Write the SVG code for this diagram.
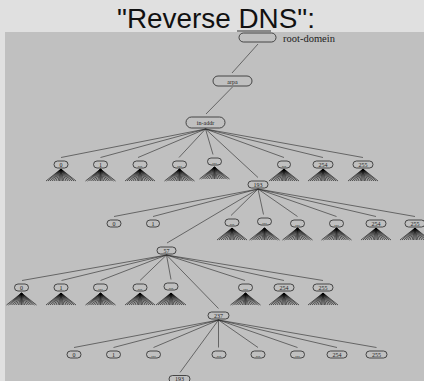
<svg xmlns="http://www.w3.org/2000/svg" xmlns:xlink="http://www.w3.org/1999/xlink" width="424" height="381" viewBox="0 0 424 381">
<style>
.n{fill:none;stroke:#262626;stroke-width:0.8}
.t{font-family:"Liberation Serif",serif;font-size:6px;fill:#222;text-anchor:middle}
.c line{stroke:#262626;stroke-width:0.6}
.f line{stroke:#000;stroke-width:0.6}
</style>
<defs>
<g id="fan" class="f">
<line x1="0" y1="0" x2="-15" y2="12"/><line x1="0" y1="0" x2="-13" y2="12"/><line x1="0" y1="0" x2="-11" y2="12"/><line x1="0" y1="0" x2="-9" y2="12"/><line x1="0" y1="0" x2="-7" y2="12"/><line x1="0" y1="0" x2="-5" y2="12"/><line x1="0" y1="0" x2="-3" y2="12"/><line x1="0" y1="0" x2="-1.5" y2="12"/><line x1="0" y1="0" x2="0" y2="12"/><line x1="0" y1="0" x2="1.5" y2="12"/><line x1="0" y1="0" x2="3" y2="12"/><line x1="0" y1="0" x2="5" y2="12"/><line x1="0" y1="0" x2="7" y2="12"/><line x1="0" y1="0" x2="9" y2="12"/><line x1="0" y1="0" x2="11" y2="12"/><line x1="0" y1="0" x2="13" y2="12"/><line x1="0" y1="0" x2="15" y2="12"/>
</g>
</defs>
<rect x="0" y="0" width="424" height="381" fill="#e0e0e0"/>
<rect x="5" y="32" width="419" height="349" fill="#c0c0c0"/>
<text x="117" y="28" font-family="Liberation Sans,sans-serif" font-size="28" fill="#111" textLength="198" lengthAdjust="spacingAndGlyphs">"Reverse DNS":</text>
<line x1="237" y1="31" x2="271" y2="31" stroke="#333" stroke-width="1"/>

<g id="connectors" class="c">
<line x1="258" y1="44" x2="232" y2="73"/>
<line x1="232.5" y1="87" x2="206" y2="114"/>
<line x1="205.5" y1="129" x2="61" y2="157.5"/>
<line x1="205.5" y1="129" x2="100.5" y2="157.5"/>
<line x1="205.5" y1="129" x2="138" y2="157.5"/>
<line x1="205.5" y1="129" x2="179" y2="157.5"/>
<line x1="205.5" y1="129" x2="213" y2="154.5"/>
<line x1="205.5" y1="129" x2="258" y2="177.5"/>
<line x1="205.5" y1="129" x2="284" y2="157.5"/>
<line x1="205.5" y1="129" x2="323" y2="157.5"/>
<line x1="205.5" y1="129" x2="363" y2="157.5"/>
<line x1="258" y1="189" x2="114" y2="216.5"/>
<line x1="258" y1="189" x2="153" y2="216.5"/>
<line x1="258" y1="189" x2="167" y2="243"/>
<line x1="258" y1="189" x2="231" y2="215.5"/>
<line x1="258" y1="189" x2="263.5" y2="214.5"/>
<line x1="258" y1="189" x2="297.5" y2="216.5"/>
<line x1="258" y1="189" x2="336.5" y2="216.5"/>
<line x1="258" y1="189" x2="376" y2="216.5"/>
<line x1="258" y1="189" x2="415" y2="216.5"/>
<line x1="166.5" y1="255" x2="22" y2="280.5"/>
<line x1="166.5" y1="255" x2="61.5" y2="280.5"/>
<line x1="166.5" y1="255" x2="100.5" y2="280.5"/>
<line x1="166.5" y1="255" x2="140" y2="280.5"/>
<line x1="166.5" y1="255" x2="171" y2="279.5"/>
<line x1="166.5" y1="255" x2="218.5" y2="308.5"/>
<line x1="166.5" y1="255" x2="245" y2="280.5"/>
<line x1="166.5" y1="255" x2="284" y2="280.5"/>
<line x1="166.5" y1="255" x2="323" y2="280.5"/>
<line x1="218.5" y1="320" x2="74" y2="347.5"/>
<line x1="218.5" y1="320" x2="113.5" y2="347.5"/>
<line x1="218.5" y1="320" x2="153.5" y2="347.5"/>
<line x1="218.5" y1="320" x2="180" y2="372.5"/>
<line x1="218.5" y1="320" x2="218.5" y2="347.5"/>
<line x1="218.5" y1="320" x2="258" y2="347.5"/>
<line x1="218.5" y1="320" x2="297.5" y2="347.5"/>
<line x1="218.5" y1="320" x2="337" y2="347.5"/>
<line x1="218.5" y1="320" x2="376.5" y2="347.5"/>
</g>

<g id="root"><rect class="n" x="239" y="33" width="37" height="9" rx="4.5"/><text x="283" y="41.5" font-family="Liberation Serif,serif" font-size="10.5" fill="#222">root-domein</text></g>
<g id="arpa"><rect class="n" x="213" y="76" width="39" height="10" rx="5"/><text class="t" x="232.5" y="83.5" font-size="7">arpa</text></g>
<g id="in-addr"><rect class="n" x="186" y="117" width="39" height="11" rx="5.5"/><text class="t" x="205.5" y="125" font-size="7">in-addr</text></g>

<g id="a1"><rect class="n" x="54" y="161" width="14" height="7" rx="3.5"/><text class="t" x="61" y="166.5">0</text><use xlink:href="#fan" x="61" y="169"/></g>
<g id="a2"><rect class="n" x="93.5" y="161" width="14" height="7" rx="3.5"/><text class="t" x="100.5" y="166.5">1</text><use xlink:href="#fan" x="100.5" y="169"/></g>
<g id="a3"><rect class="n" x="133" y="161" width="14" height="7" rx="3.5"/><text class="t" x="140" y="166.5">...</text><use xlink:href="#fan" x="140" y="169"/></g>
<g id="a4"><rect class="n" x="172.5" y="161" width="14" height="7" rx="3.5"/><text class="t" x="179.5" y="166.5">...</text><use xlink:href="#fan" x="179.5" y="169"/></g>
<g id="a5"><rect class="n" x="207.5" y="158" width="14" height="7" rx="3.5"/><text class="t" x="214.5" y="163.5">...</text><use xlink:href="#fan" x="214.5" y="167"/></g>
<g id="a6"><rect class="n" x="248" y="181" width="20" height="7" rx="3.5"/><text class="t" x="258" y="186.5">193</text></g>
<g id="a7"><rect class="n" x="277.5" y="161" width="13" height="7" rx="3.5"/><text class="t" x="284" y="166.5">...</text><use xlink:href="#fan" x="284" y="169"/></g>
<g id="a8"><rect class="n" x="313" y="161" width="20" height="7" rx="3.5"/><text class="t" x="323" y="166.5">254</text><use xlink:href="#fan" x="323" y="169"/></g>
<g id="a9"><rect class="n" x="353" y="161" width="20" height="7" rx="3.5"/><text class="t" x="363" y="166.5">255</text><use xlink:href="#fan" x="363" y="169"/></g>

<g id="b1"><rect class="n" x="107" y="220" width="14" height="7" rx="3.5"/><text class="t" x="114" y="225.5">0</text></g>
<g id="b2"><rect class="n" x="146.5" y="220" width="13" height="7" rx="3.5"/><text class="t" x="153" y="225.5">1</text></g>
<g id="b3"><rect class="n" x="157" y="247" width="19" height="7" rx="3.5"/><text class="t" x="166.5" y="252.5">57</text></g>
<g id="b4"><rect class="n" x="225" y="219" width="14" height="7" rx="3.5"/><text class="t" x="232" y="224.5">...</text><use xlink:href="#fan" x="232" y="228"/></g>
<g id="b5"><rect class="n" x="257.5" y="218" width="14" height="7" rx="3.5"/><text class="t" x="264.5" y="223.5">...</text><use xlink:href="#fan" x="264.5" y="228"/></g>
<g id="b6"><rect class="n" x="290.5" y="220" width="14" height="7" rx="3.5"/><text class="t" x="297.5" y="225.5">...</text><use xlink:href="#fan" x="297.5" y="228"/></g>
<g id="b7"><rect class="n" x="329.5" y="220" width="14" height="7" rx="3.5"/><text class="t" x="336.5" y="225.5">...</text><use xlink:href="#fan" x="336.5" y="228"/></g>
<g id="b8"><rect class="n" x="366" y="220" width="20" height="7" rx="3.5"/><text class="t" x="376" y="225.5">254</text><use xlink:href="#fan" x="376" y="228"/></g>
<g id="b9"><rect class="n" x="405" y="220" width="20" height="7" rx="3.5"/><text class="t" x="415" y="225.5">255</text><use xlink:href="#fan" x="415" y="228"/></g>

<g id="c1"><rect class="n" x="14.5" y="284" width="14" height="7" rx="3.5"/><text class="t" x="21.5" y="289.5">0</text><use xlink:href="#fan" x="21.5" y="293"/></g>
<g id="c2"><rect class="n" x="54" y="284" width="14" height="7" rx="3.5"/><text class="t" x="61" y="289.5">1</text><use xlink:href="#fan" x="61" y="293"/></g>
<g id="c3"><rect class="n" x="93.5" y="284" width="14" height="7" rx="3.5"/><text class="t" x="100.5" y="289.5">...</text><use xlink:href="#fan" x="100.5" y="293"/></g>
<g id="c4"><rect class="n" x="133" y="284" width="14" height="7" rx="3.5"/><text class="t" x="140" y="289.5">...</text><use xlink:href="#fan" x="140" y="293"/></g>
<g id="c5"><rect class="n" x="164" y="283" width="14" height="7" rx="3.5"/><text class="t" x="171" y="288.5">...</text><use xlink:href="#fan" x="171" y="293"/></g>
<g id="c6"><rect class="n" x="208" y="312" width="21" height="7" rx="3.5"/><text class="t" x="218.5" y="317.5">237</text></g>
<g id="c7"><rect class="n" x="238.5" y="284" width="14" height="7" rx="3.5"/><text class="t" x="245.5" y="289.5">...</text><use xlink:href="#fan" x="245.5" y="293"/></g>
<g id="c8"><rect class="n" x="274" y="284" width="20" height="7" rx="3.5"/><text class="t" x="284" y="289.5">254</text><use xlink:href="#fan" x="284" y="293"/></g>
<g id="c9"><rect class="n" x="313" y="284" width="20" height="7" rx="3.5"/><text class="t" x="323" y="289.5">255</text><use xlink:href="#fan" x="323" y="293"/></g>

<g id="d1"><rect class="n" x="67" y="351" width="14" height="7" rx="3.5"/><text class="t" x="74" y="356.5">0</text></g>
<g id="d2"><rect class="n" x="106.5" y="351" width="14" height="7" rx="3.5"/><text class="t" x="113.5" y="356.5">1</text></g>
<g id="d3"><rect class="n" x="146.5" y="351" width="14" height="7" rx="3.5"/><text class="t" x="153.5" y="356.5">...</text></g>
<g id="d4"><rect class="n" x="169" y="375.5" width="21" height="7" rx="3.5"/><text class="t" x="179.5" y="380.5" font-size="5.5">193</text></g>
<g id="d5"><rect class="n" x="212" y="351" width="14" height="7" rx="3.5"/><text class="t" x="219" y="356.5">...</text></g>
<g id="d6"><rect class="n" x="251" y="351" width="14" height="7" rx="3.5"/><text class="t" x="258" y="356.5">...</text></g>
<g id="d7"><rect class="n" x="290.5" y="351" width="14" height="7" rx="3.5"/><text class="t" x="297.5" y="356.5">...</text></g>
<g id="d8"><rect class="n" x="327" y="351" width="20" height="7" rx="3.5"/><text class="t" x="337" y="356.5">254</text></g>
<g id="d9"><rect class="n" x="366" y="351" width="21" height="7" rx="3.5"/><text class="t" x="376.5" y="356.5">255</text></g>
</svg>
